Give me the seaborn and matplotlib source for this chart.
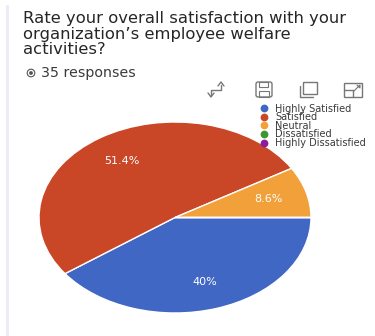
import matplotlib
matplotlib.use("Agg")
import matplotlib.pyplot as plt
from matplotlib.lines import Line2D
from matplotlib.patches import Rectangle, Circle, FancyBboxPatch
import seaborn as sns

categories = ["Highly Satisfied", "Satisfied", "Neutral", "Dissatisfied", "Highly Dissatisfied"]
shares = [40.0, 51.4, 8.6, 0.0, 0.0]
colors = ["#4167C4", "#C94726", "#F2A03A", "#3C9632", "#8E1B9B"]
title_lines = ["Rate your overall satisfaction with your", "organization\u2019s employee welfare", "activities?"]
title_rows = [18, 34, 49]
responses = "35 responses"

sns.set_theme(style="white")
plt.rcParams["font.family"] = ["DejaVu Sans"]
W, H = 375, 336
fig = plt.figure(figsize=(W / 100, H / 100), dpi=100, facecolor="white")

# Overlay in pixel units for the page furniture
page = fig.add_axes([0, 0, 1, 1])
page.set_xlim(0, W)
page.set_ylim(H, 0)
page.axis("off")
page.add_patch(Rectangle((6, 5), 3, 331, fc="#ECECF8", ec="none"))

for line, row in zip(title_lines, title_rows):
    page.text(23, row, line, fontsize=11.8, color="#262626", va="center", ha="left")
page.text(41, 73, responses, fontsize=10.2, color="#3a3a3a", va="center", ha="left")
page.add_patch(Circle((31, 73), 3.8, fc="none", ec="#555555", lw=0.8))
page.add_patch(Circle((31, 73), 1.9, fc="#555555", ec="none"))

# Toolbar glyphs
ink = "#777777"
page.plot([211, 211, 221, 221], [95, 90, 90, 85], color=ink, lw=1)
page.plot([218, 221, 224], [86, 82, 86], color=ink, lw=1)
page.plot([208, 211, 214], [93, 97, 93], color=ink, lw=1)
page.add_patch(FancyBboxPatch((256, 82), 16, 15, boxstyle="round,pad=0,rounding_size=2", fc="none", ec=ink, lw=1))
page.add_patch(Rectangle((259, 82), 9, 5, fc="none", ec=ink, lw=0.8))
page.add_patch(Rectangle((259, 91), 10, 6, fc="none", ec=ink, lw=0.8))
page.add_patch(Rectangle((303, 82), 14, 12, fc="none", ec=ink, lw=1))
page.plot([300, 300, 313], [86, 97, 97], color=ink, lw=1)
page.add_patch(Rectangle((344, 83), 18, 14, fc="none", ec=ink, lw=1))
page.plot([344, 353, 353], [90, 90, 97], color=ink, lw=1)
page.plot([354, 360, 360, 357], [91, 85, 88, 85], color=ink, lw=0.8)

# Pie stretched to an ellipse by its axes box
left, right, top, bottom = 39, 311, 122, 313
ax = fig.add_axes([left / W, 1 - bottom / H, (right - left) / W, (bottom - top) / H])
ax.patch.set_alpha(0)


def pct_label(value):
    if value < 0.05:
        return ""
    return f"{value:.1f}%".replace(".0%", "%")


ax.pie(
    shares,
    colors=colors,
    startangle=0,
    counterclock=False,
    radius=1,
    pctdistance=0.71,
    autopct=pct_label,
    wedgeprops={"edgecolor": "white", "linewidth": 1},
    textprops={"color": "white", "fontsize": 8},
)
ax.set_aspect("auto")
ax.set_xlim(-1, 1)
ax.set_ylim(-1, 1)

handles = [
    Line2D([], [], ls="none", marker="o", ms=5.6, mfc=c, mec="none", label=n)
    for c, n in zip(colors, categories)
]
fig.legend(
    handles=handles,
    loc="upper left",
    bbox_to_anchor=(257.5 / W, 1 - 103.5 / H),
    frameon=False,
    fontsize=7,
    labelspacing=-0.14,
    handletextpad=0.4,
    handlelength=1.4,
    borderpad=0,
    borderaxespad=0,
    labelcolor="#3a3a3a",
)

fig.savefig("out.png", dpi=100)
